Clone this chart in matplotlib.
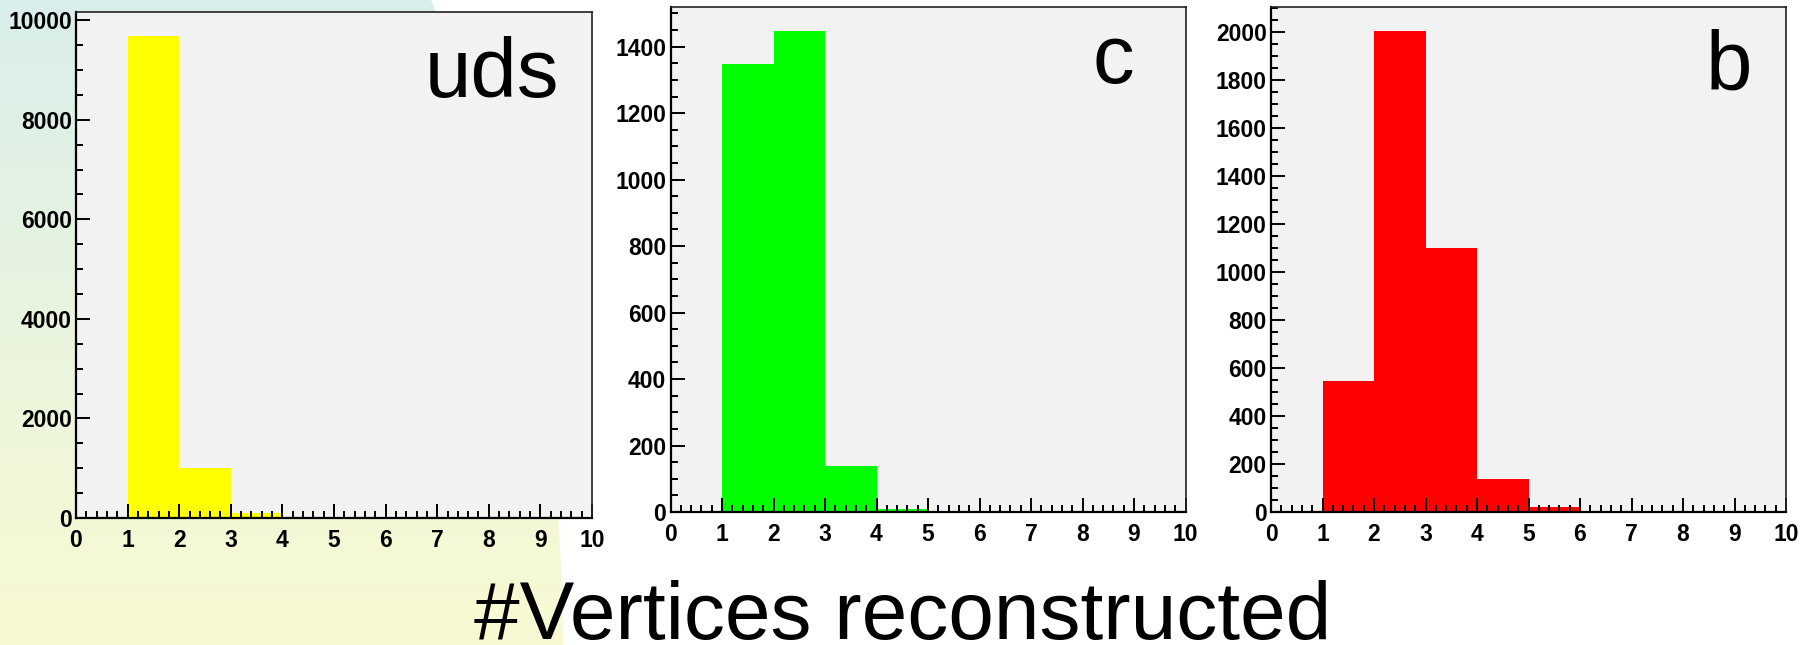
import numpy as np
import matplotlib
matplotlib.use("Agg")
import matplotlib.pyplot as plt
from matplotlib.patches import Circle
from matplotlib.ticker import MultipleLocator

plt.rcParams['font.family'] = ['Liberation Sans', 'DejaVu Sans']

# histogram contents, one bin per vertex count 0..9
bin_edges = np.arange(0, 11)
uds_counts = [0, 9690, 1005, 100, 0, 0, 0, 0, 0, 0]
c_counts = [0, 1347, 1447, 138, 8, 0, 0, 0, 0, 0]
b_counts = [0, 545, 2003, 1101, 138, 19, 0, 0, 0, 0]

flavours = ['uds', 'c', 'b']
fill_colors = ['#ffff00', '#00ff00', '#ff0000']
y_major_step = [2000, 200, 200]
y_minor_step = [500, 50, 50]
x_title = '#Vertices reconstructed'

W, H = 1814, 645
fig = plt.figure(figsize=(W / 100, H / 100), dpi=100)

# slide background: teal->yellow wash cut by a big arc on the left
bg = fig.add_axes([0, 0, 1, 1], zorder=-10)
bg.set_xlim(0, W)
bg.set_ylim(0, H)
bg.axis('off')
t = np.linspace(0, 1, 256)[:, None, None]
c_top = np.array([217, 238, 235]) / 255
c_bot = np.array([249, 250, 210]) / 255
wash = c_top + (c_bot - c_top) * t
im = bg.imshow(wash, extent=(0, W, 0, H), aspect='auto', origin='upper')
arc = Circle((-1079, 0), 1642, transform=bg.transData)
im.set_clip_path(arc)

# panel frames in pixels: left, right, top, bottom (y from top)
frames = [(76, 592, 11.5, 518), (670.5, 1185.5, 7, 512), (1271, 1786, 7, 512)]
label_xy = [(0.936, 0.831), (0.900, 0.850), (0.934, 0.836)]

for i, counts in enumerate([uds_counts, c_counts, b_counts]):
    l, r, tp, bt = frames[i]
    ax = fig.add_axes([l / W, 1 - bt / H, (r - l) / W, (bt - tp) / H])
    ax.set_facecolor('#f2f2f2')
    ax.bar(bin_edges[:-1], counts, width=1, align='edge',
           color=fill_colors[i], linewidth=0)
    ax.set_xlim(0, 10)
    ax.set_ylim(0, 1.05 * max(counts))

    ax.xaxis.set_major_locator(MultipleLocator(1))
    ax.xaxis.set_minor_locator(MultipleLocator(0.2))
    ax.yaxis.set_major_locator(MultipleLocator(y_major_step[i]))
    ax.yaxis.set_minor_locator(MultipleLocator(y_minor_step[i]))
    ax.tick_params(which='both', direction='in', top=False, right=False,
                   width=1.4, color='black', labelsize=16.5)
    ax.tick_params(which='major', length=10)
    ax.tick_params(which='minor', length=5)
    ax.tick_params(axis='y', pad=3)
    ax.tick_params(axis='x', pad=8)
    for lab in ax.get_xticklabels() + ax.get_yticklabels():
        lab.set_fontweight('bold')

    for side in ['left', 'bottom']:
        ax.spines[side].set_linewidth(1.6)
        ax.spines[side].set_color('black')
    for side in ['top', 'right']:
        ax.spines[side].set_linewidth(1.2)
        ax.spines[side].set_color('#222222')

    ax.text(label_xy[i][0], label_xy[i][1], flavours[i], transform=ax.transAxes,
            ha='right', va='baseline', fontsize=60)

fig.text(903 / W, 6 / H, x_title, ha='center', va='baseline', fontsize=59)

fig.savefig('out.png', dpi=100)
